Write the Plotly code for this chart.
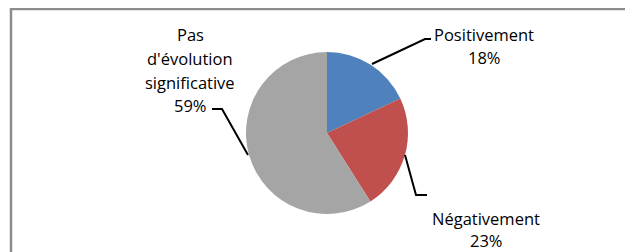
import plotly.graph_objects as go

labels = ["Positivement", "Négativement", "Pas d'évolution significative"]
values = [18, 23, 59]
colors = ["#4F81BD", "#C0504D", "#A5A5A5"]
label_lines = [["Positivement"], ["Négativement"], ["Pas", "d'évolution", "significative"]]

# page offset introduced by the default body margin
OFF = 8
W, H = 633 - OFF, 252 - OFF

def px(x):
    return (x - OFF) / W

def py(y):
    return 1 - (y - OFF) / H

cx, cy, r = 327, 133, 81

fig = go.Figure()
fig.add_trace(go.Pie(
    labels=labels, values=values, sort=False, direction="clockwise", rotation=0,
    marker=dict(colors=colors, line=dict(width=0)),
    textinfo="none", hoverinfo="label+percent", showlegend=False,
    domain=dict(x=[px(cx - r), px(cx + r)], y=[py(cy + r), py(cy - r)]),
))

font = dict(family="Open Sans", size=16.5, color="#000000")
blocks = [(484, 34, 23.5), (486, 218, 22.5), (190, 35, 23.5)]
for (bx, by, step), lines, v in zip(blocks, label_lines, values):
    allines = lines + [f"{v}%"]
    for i, t in enumerate(allines):
        fig.add_annotation(x=px(bx), y=py(by + i * step), xref="paper", yref="paper",
                           text=t, showarrow=False, font=font,
                           xanchor="center", yanchor="middle")

leaders = [
    [(372, 64), (425, 39), (431, 39)],
    [(405, 155), (416, 195), (427, 195)],
    [(248, 155), (222, 109), (212, 109)],
]
for pts in leaders:
    d = "M " + " L ".join(f"{px(x)} {py(y)}" for x, y in pts)
    fig.add_shape(type="path", path=d, xref="paper", yref="paper",
                  line=dict(color="#000000", width=2))

fig.add_shape(type="rect", xref="paper", yref="paper",
              x0=px(11), x1=px(633 + 10), y0=py(252 + 10), y1=py(9),
              line=dict(color="#8C8C8C", width=2.5), fillcolor="rgba(0,0,0,0)")

fig.update_layout(width=W, height=H, margin=dict(l=0, r=0, t=0, b=0),
                  paper_bgcolor="white", plot_bgcolor="white")
fig.write_html("out.html")
